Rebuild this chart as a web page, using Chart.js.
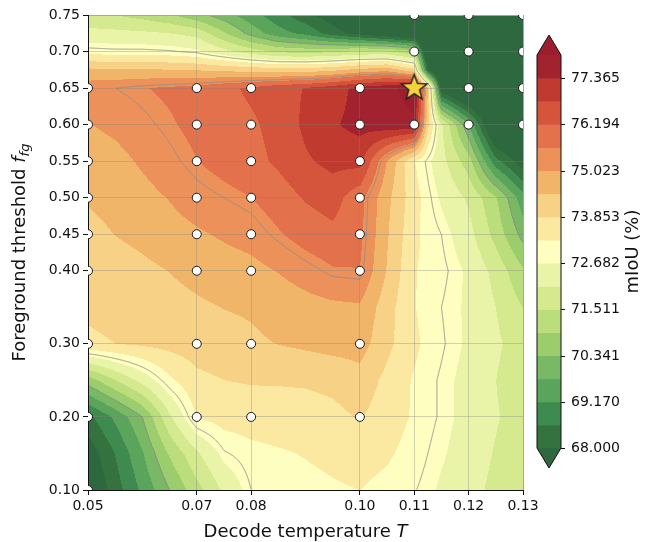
<!DOCTYPE html>
<html>
<head>
<meta charset="utf-8">
<script src="https://cdn.jsdelivr.net/npm/chart.js@4.4.1/dist/chart.umd.min.js"></script>
<style>
  html, body { margin: 0; padding: 0; background: #fff; }
  canvas { display: block; }
</style>
</head>
<body>
<canvas id="sweep" width="648" height="542"></canvas>
<script>
// mIoU (%) over the sweep: rows follow gridThresholds, columns gridTemps
const gridTemps = [0.05, 0.055, 0.06, 0.065, 0.07, 0.075, 0.08, 0.085, 0.09, 0.095, 0.10, 0.105, 0.11, 0.1125, 0.115, 0.12, 0.125, 0.13];
const gridThresholds = [0.10, 0.15, 0.20, 0.25, 0.30, 0.35, 0.40, 0.45, 0.50, 0.55, 0.60, 0.65, 0.675, 0.70, 0.725, 0.75];
const mIoU = [
    [67.2, 68.3, 69.3, 70.3, 71.3, 72.2, 72.9, 73.05, 73.1, 73.2, 73.27, 73.1, 72.92, 72.8, 72.6, 72.3, 71.95, 71.7],
    [67.6, 68.6, 69.7, 71.0, 72.0, 72.85, 73.1, 73.2, 73.3, 73.4, 73.5, 73.35, 73.05, 72.9, 72.75, 72.4, 72.05, 71.75],
    [68.4, 69.3, 70.3, 72.0, 73.3, 73.5, 73.55, 73.6, 73.62, 73.7, 73.9, 73.55, 73.2, 73.0, 72.85, 72.5, 72.15, 71.8],
    [70.6, 71.5, 72.3, 73.15, 73.7, 73.85, 73.9, 73.9, 73.92, 74.0, 74.2, 73.7, 73.2, 73.0, 72.85, 72.5, 72.1, 71.7],
    [73.75, 73.85, 73.95, 74.05, 74.15, 74.25, 74.35, 74.45, 74.55, 74.65, 74.7, 74.0, 73.4, 73.1, 72.95, 72.6, 72.2, 71.8],
    [73.95, 74.05, 74.15, 74.25, 74.35, 74.45, 74.5, 74.65, 74.8, 74.9, 74.95, 74.1, 73.3, 73.05, 72.9, 72.6, 72.1, 71.5],
    [74.05, 74.15, 74.3, 74.45, 74.6, 74.75, 74.85, 75.05, 75.3, 75.55, 75.6, 74.4, 73.3, 73.15, 73.0, 72.6, 71.9, 71.0],
    [74.25, 74.45, 74.6, 74.8, 74.95, 75.1, 75.25, 75.55, 75.85, 76.05, 75.75, 74.5, 73.4, 73.1, 72.9, 72.3, 71.3, 70.1],
    [74.5, 74.65, 74.85, 75.05, 75.3, 75.45, 75.6, 75.9, 76.25, 76.45, 75.8, 74.6, 73.5, 73.0, 72.6, 72.0, 71.0, 69.4],
    [74.7, 74.85, 75.1, 75.35, 75.6, 75.8, 76.0, 76.3, 76.7, 76.95, 77.0, 75.0, 73.3, 72.8, 72.3, 71.2, 68.8, 67.6],
    [75.0, 75.15, 75.35, 75.55, 75.75, 75.95, 76.1, 76.4, 76.9, 77.3, 77.55, 77.8, 77.9, 74.0, 72.2, 69.8, 66.6, 66.0],
    [75.35, 75.45, 75.58, 75.7, 75.8, 76.05, 76.3, 76.6, 76.8, 77.1, 77.55, 77.85, 78.1, 74.5, 67.5, 66.0, 66.0, 66.0],
    [74.55, 74.5, 74.5, 74.45, 74.4, 74.3, 74.2, 74.1, 74.1, 74.3, 74.6, 74.8, 74.0, 68.0, 66.0, 66.0, 66.0, 66.0],
    [73.05, 73.0, 73.0, 72.95, 72.8, 72.3, 71.8, 71.4, 71.3, 71.4, 71.6, 71.6, 71.0, 66.5, 66.0, 66.0, 66.0, 66.0],
    [72.3, 72.25, 72.2, 72.1, 71.9, 71.0, 70.1, 69.4, 69.0, 68.3, 67.7, 67.2, 66.8, 66.0, 66.0, 66.0, 66.0, 66.0],
    [71.6, 71.5, 71.3, 71.0, 70.5, 70.0, 69.4, 68.8, 68.2, 67.6, 67.0, 66.5, 66.0, 66.0, 66.0, 66.0, 66.0, 66.0]
];

// runs that were actually evaluated (white dots) and the best one (star)
const sampledRuns = [
    [0.05, 0.10], [0.05, 0.20], [0.05, 0.30], [0.05, 0.40], [0.05, 0.45], [0.05, 0.50], [0.05, 0.55], [0.05, 0.60], [0.05, 0.65],
    [0.07, 0.20], [0.07, 0.30], [0.07, 0.40], [0.07, 0.45], [0.07, 0.50], [0.07, 0.55], [0.07, 0.60], [0.07, 0.65],
    [0.08, 0.20], [0.08, 0.30], [0.08, 0.40], [0.08, 0.45], [0.08, 0.50], [0.08, 0.55], [0.08, 0.60], [0.08, 0.65],
    [0.10, 0.20], [0.10, 0.30], [0.10, 0.40], [0.10, 0.45], [0.10, 0.50], [0.10, 0.55], [0.10, 0.60], [0.10, 0.65],
    [0.11, 0.60], [0.11, 0.70], [0.11, 0.75],
    [0.12, 0.60], [0.12, 0.65], [0.12, 0.70], [0.12, 0.75],
    [0.13, 0.60], [0.13, 0.65], [0.13, 0.70], [0.13, 0.75]
];
const bestRun = [0.11, 0.65];

const xTicks = [0.05, 0.07, 0.08, 0.10, 0.11, 0.12, 0.13];
const yTicks = [0.10, 0.20, 0.30, 0.40, 0.45, 0.50, 0.55, 0.60, 0.65, 0.70, 0.75];

// filled contour levels and colorbar
const levels = [68.000, 68.585, 69.170, 69.756, 70.341, 70.926, 71.511, 72.097, 72.682, 73.267, 73.853, 74.438, 75.023, 75.608, 76.194, 76.779, 77.365, 77.950];
const levelColors = ['#34723f', '#3f8a4f', '#5aa55b', '#79b966', '#9ccd6c', '#bcdd7c', '#d5e98f', '#e9f4a9', '#fefec0',
    '#fbe9a1', '#f7d286', '#f1b56a', '#eb9159', '#e3714c', '#d4543c', '#c03a30', '#a2232f'];
const underColor = '#2e683e';
const overColor = '#9c1d2e';
const cbarTickLabels = ['68.000', '69.170', '70.341', '71.511', '72.682', '73.853', '75.023', '76.194', '77.365'];
const lineLevels = [70.3, 72.9, 75.45];

const FONT = 'DejaVu Sans';
const TEXT = '#111';

function hexToRgb(hex) {
    const n = parseInt(hex.slice(1), 16);
    return [(n >> 16) & 255, (n >> 8) & 255, n & 255];
}
const levelRgb = levelColors.map(hexToRgb);
const underRgb = hexToRgb(underColor);
const overRgb = hexToRgb(overColor);

function cellIndex(arr, v) {
    if (v <= arr[0]) return 0;
    for (let i = 0; i < arr.length - 1; i++) {
        if (v <= arr[i + 1]) return i;
    }
    return arr.length - 2;
}

// bilinear lookup in the grid
function fieldAt(t, f) {
    const i = cellIndex(gridTemps, t);
    const j = cellIndex(gridThresholds, f);
    const u = Math.min(1, Math.max(0, (t - gridTemps[i]) / (gridTemps[i + 1] - gridTemps[i])));
    const w = Math.min(1, Math.max(0, (f - gridThresholds[j]) / (gridThresholds[j + 1] - gridThresholds[j])));
    return (1 - u) * (1 - w) * mIoU[j][i] + u * (1 - w) * mIoU[j][i + 1]
        + (1 - u) * w * mIoU[j + 1][i] + u * w * mIoU[j + 1][i + 1];
}

function rgbFor(v) {
    if (v < levels[0]) return underRgb;
    if (v >= levels[levels.length - 1]) return overRgb;
    for (let k = 0; k < levelRgb.length; k++) {
        if (v < levels[k + 1]) return levelRgb[k];
    }
    return overRgb;
}

// marching squares on the per-pixel values
function traceLevel(ctx, vals, w, h, level, ox, oy) {
    ctx.beginPath();
    for (let j = 0; j < h - 1; j++) {
        for (let i = 0; i < w - 1; i++) {
            const a = vals[j * w + i], b = vals[j * w + i + 1];
            const c = vals[(j + 1) * w + i + 1], d = vals[(j + 1) * w + i];
            const pts = [];
            if ((a < level) !== (b < level)) pts.push([i + (level - a) / (b - a), j]);
            if ((b < level) !== (c < level)) pts.push([i + 1, j + (level - b) / (c - b)]);
            if ((d < level) !== (c < level)) pts.push([i + (level - d) / (c - d), j + 1]);
            if ((a < level) !== (d < level)) pts.push([i, j + (level - a) / (d - a)]);
            for (let k = 0; k + 1 < pts.length; k += 2) {
                ctx.moveTo(ox + pts[k][0], oy + pts[k][1]);
                ctx.lineTo(ox + pts[k + 1][0], oy + pts[k + 1][1]);
            }
        }
    }
    ctx.stroke();
}

// text made of pieces with their own font / vertical shift
function drawRich(ctx, parts, x, y) {
    let total = 0;
    parts.forEach(p => { ctx.font = p.font; p.w = ctx.measureText(p.text).width; total += p.w; });
    let cx = x - total / 2;
    parts.forEach(p => {
        ctx.font = p.font;
        ctx.fillText(p.text, cx, y + (p.dy || 0));
        cx += p.w;
    });
}

function makeStar(size) {
    const c = document.createElement('canvas');
    c.width = c.height = size;
    const g = c.getContext('2d');
    const R = size / 2 - 1.5, r = R * 0.42, m = size / 2;
    g.beginPath();
    for (let k = 0; k < 10; k++) {
        const ang = -Math.PI / 2 + k * Math.PI / 5;
        const rad = k % 2 ? r : R;
        g.lineTo(m + rad * Math.cos(ang), m + rad * Math.sin(ang));
    }
    g.closePath();
    g.fillStyle = '#f5d13b';
    g.fill();
    g.lineWidth = 1.4;
    g.strokeStyle = '#222';
    g.stroke();
    return c;
}

const contourPlugin = {
    id: 'contour',
    beforeDraw(chart) {
        const {ctx, chartArea: area, scales: {x, y}} = chart;
        ctx.save();
        ctx.fillStyle = '#fff';
        ctx.fillRect(0, 0, chart.width, chart.height);

        const w = Math.round(area.right - area.left);
        const h = Math.round(area.bottom - area.top);
        const colT = [], rowF = [];
        for (let i = 0; i < w; i++) colT.push(x.getValueForPixel(area.left + i + 0.5));
        for (let j = 0; j < h; j++) rowF.push(y.getValueForPixel(area.top + j + 0.5));

        const vals = new Float32Array(w * h);
        const off = document.createElement('canvas');
        off.width = w;
        off.height = h;
        const octx = off.getContext('2d');
        const img = octx.createImageData(w, h);
        for (let j = 0; j < h; j++) {
            for (let i = 0; i < w; i++) {
                const v = fieldAt(colT[i], rowF[j]);
                vals[j * w + i] = v;
                const c = rgbFor(v);
                const p = (j * w + i) * 4;
                img.data[p] = c[0];
                img.data[p + 1] = c[1];
                img.data[p + 2] = c[2];
                img.data[p + 3] = 255;
            }
        }
        octx.putImageData(img, 0, 0);
        ctx.drawImage(off, area.left, area.top);

        ctx.strokeStyle = '#8d8d8d';
        ctx.lineWidth = 0.9;
        lineLevels.forEach(l => traceLevel(ctx, vals, w, h, l, area.left + 0.5, area.top + 0.5));
        ctx.restore();
    },
    afterDraw(chart) {
        const {ctx, chartArea: area} = chart;
        ctx.save();

        // colorbar
        const left = area.right + 14, width = 24;
        const top = area.top + 40, bottom = area.bottom - 42;
        const nb = levelColors.length;
        const bh = (bottom - top) / nb;
        levelColors.forEach((col, k) => {
            ctx.fillStyle = col;
            ctx.fillRect(left, bottom - (k + 1) * bh, width, bh + 0.5);
        });
        ctx.fillStyle = overColor;
        ctx.beginPath();
        ctx.moveTo(left, top);
        ctx.lineTo(left + width / 2, top - 20);
        ctx.lineTo(left + width, top);
        ctx.closePath();
        ctx.fill();
        ctx.fillStyle = underColor;
        ctx.beginPath();
        ctx.moveTo(left, bottom);
        ctx.lineTo(left + width / 2, bottom + 20);
        ctx.lineTo(left + width, bottom);
        ctx.closePath();
        ctx.fill();

        ctx.strokeStyle = '#111';
        ctx.lineWidth = 1;
        ctx.beginPath();
        ctx.moveTo(left, top);
        ctx.lineTo(left + width / 2, top - 20);
        ctx.lineTo(left + width, top);
        ctx.lineTo(left + width, bottom);
        ctx.lineTo(left + width / 2, bottom + 20);
        ctx.lineTo(left, bottom);
        ctx.closePath();
        ctx.stroke();

        ctx.fillStyle = TEXT;
        ctx.font = '14px "' + FONT + '"';
        ctx.textAlign = 'left';
        ctx.textBaseline = 'middle';
        cbarTickLabels.forEach((lab, n) => {
            const yy = Math.round(bottom - n * 2 * bh) + 0.5;
            ctx.beginPath();
            ctx.moveTo(left + width, yy);
            ctx.lineTo(left + width + 4, yy);
            ctx.stroke();
            ctx.fillText(lab, left + width + 10, yy);
        });

        ctx.save();
        ctx.translate(638, (top + bottom) / 2);
        ctx.rotate(-Math.PI / 2);
        ctx.textAlign = 'center';
        ctx.textBaseline = 'alphabetic';
        ctx.font = '18px "' + FONT + '"';
        ctx.fillText('mIoU (%)', 0, 0);
        ctx.restore();

        // axis titles
        ctx.textAlign = 'left';
        ctx.textBaseline = 'alphabetic';
        drawRich(ctx, [
            {text: 'Decode temperature ', font: '18px "' + FONT + '"'},
            {text: 'T', font: 'italic 18px "' + FONT + '"'}
        ], (area.left + area.right) / 2, 537);

        ctx.save();
        ctx.translate(25, (area.top + area.bottom) / 2);
        ctx.rotate(-Math.PI / 2);
        drawRich(ctx, [
            {text: 'Foreground threshold ', font: '18px "' + FONT + '"'},
            {text: 'f', font: 'italic 18px "' + FONT + '"'},
            {text: 'fg', font: 'italic 13px "' + FONT + '"', dy: 4}
        ], 0, 0);
        ctx.restore();

        ctx.restore();
    }
};

function gridColor(edgeValue) {
    return (c) => (c.tick && Math.abs(c.tick.value - edgeValue) < 1e-9) ? '#a6a6a6' : 'rgba(128,128,128,0.35)';
}

function buildAxis(min, max, tickValues, edgeValue, fit) {
    return {
        type: 'linear',
        min: min,
        max: max,
        afterBuildTicks: (s) => { s.ticks = tickValues.map(v => ({value: v})); },
        afterFit: fit,
        ticks: {
            callback: (v) => Number(v).toFixed(2),
            font: {family: FONT, size: 14},
            color: TEXT,
            padding: 3,
            autoSkip: false,
            maxRotation: 0
        },
        grid: {color: gridColor(edgeValue), lineWidth: 1, drawTicks: true, tickLength: 5, tickColor: TEXT, tickWidth: 1},
        border: {color: TEXT, width: 1}
    };
}

const sweepChart = new Chart(document.querySelector('#sweep'), {
    type: 'scatter',
    data: {
        datasets: [
            {
                data: [{x: bestRun[0], y: bestRun[1]}],
                pointStyle: makeStar(30),
                pointRadius: 14,
                clip: 0
            },
            {
                data: sampledRuns.map(p => ({x: p[0], y: p[1]})),
                pointRadius: 4.5,
                pointBackgroundColor: '#fff',
                pointBorderColor: '#1a1a1a',
                pointBorderWidth: 1,
                clip: 0
            }
        ]
    },
    options: {
        responsive: false,
        animation: false,
        devicePixelRatio: 1,
        layout: {padding: {top: 15, right: 125, left: 0, bottom: 0}},
        plugins: {legend: {display: false}, tooltip: {enabled: false}},
        scales: {
            x: buildAxis(0.05, 0.13, xTicks, 0.13, (s) => { s.height = 52; }),
            y: buildAxis(0.10, 0.75, yTicks, 0.75, (s) => { s.width = 88; })
        }
    },
    plugins: [contourPlugin]
});
</script>
</body>
</html>
